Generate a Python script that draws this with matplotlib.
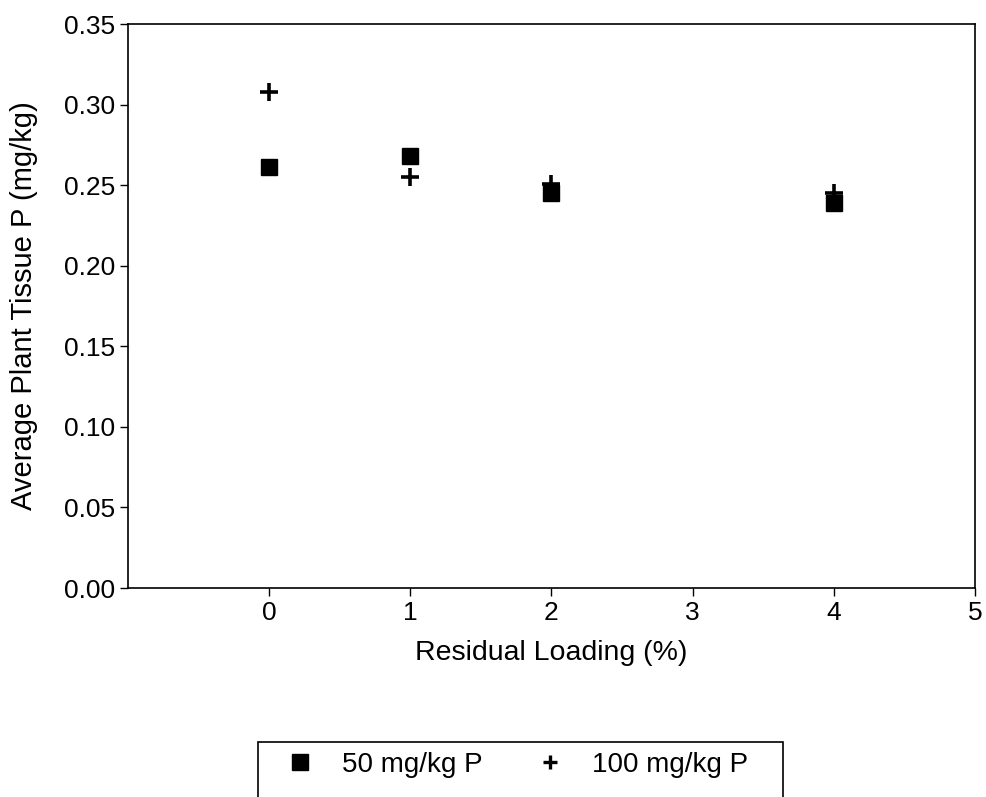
import matplotlib
matplotlib.use("Agg")
import matplotlib.pyplot as plt
from matplotlib.patches import Rectangle

plt.rcParams["font.family"] = ["Liberation Sans", "DejaVu Sans"]

# Data
loading = [0, 1, 2, 4]
p50 = [0.261, 0.268, 0.245, 0.239]
p100 = [0.308, 0.255, 0.251, 0.245]

W, H = 987, 797
fig = plt.figure(figsize=(W / 100, H / 100), dpi=100)
ax = fig.add_axes([127.7 / W, 1 - 588 / H, (975 - 127.7) / W, (588 - 24) / H])

ax.plot(loading, p50, linestyle="none", marker="s", markersize=11,
        color="black", label="50 mg/kg P")
ax.plot(loading, p100, linestyle="none", marker="+", markersize=13,
        markeredgewidth=2.6, color="black", label="100 mg/kg P")

ax.set_xlim(-1, 5)
ax.set_ylim(0, 0.35)
ax.set_xticks([0, 1, 2, 3, 4, 5])
ax.set_yticks([0.0, 0.05, 0.10, 0.15, 0.20, 0.25, 0.30, 0.35])
ax.set_yticklabels([f"{v:.2f}" for v in ax.get_yticks()])
ax.tick_params(labelsize=19, direction="out", length=6, width=1, colors="black", pad=3)
for spine in ax.spines.values():
    spine.set_linewidth(1.2)

ax.set_xlabel("Residual Loading (%)", fontsize=20.5, labelpad=11)
ax.set_ylabel("Average Plant Tissue P (mg/kg)", fontsize=21, labelpad=19)

# legend box, running off the bottom edge like the scan
fig.patches.append(Rectangle((258 / W, -0.05), (783 - 258) / W, 0.05 + 1 - 742 / H,
                             transform=fig.transFigure, fill=False,
                             edgecolor="black", linewidth=1.2))
leg = fig.legend(loc="upper left", bbox_to_anchor=(286 / W, 1 - 752 / H),
                 ncol=2, fontsize=20, frameon=False, borderpad=0,
                 handletextpad=1.0, columnspacing=1.95, handlelength=1.0,
                 borderaxespad=0)
leg.legend_handles[0].set_markersize(11.5)
leg.legend_handles[1].set_markersize(10)
leg.legend_handles[1].set_markeredgewidth(2.4)

fig.savefig("out.png", dpi=100)
